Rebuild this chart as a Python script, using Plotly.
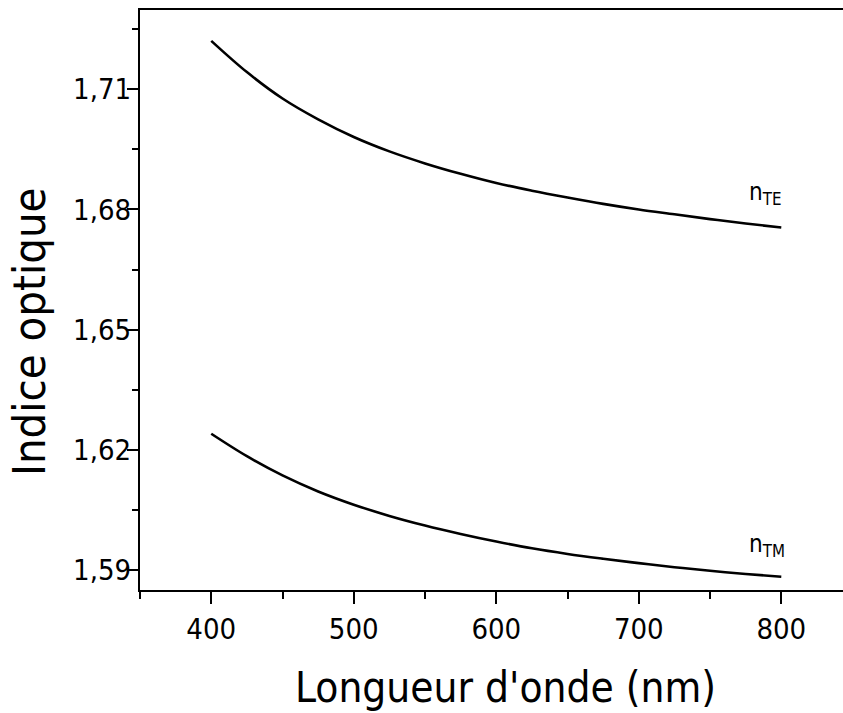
import plotly.graph_objects as go

wavelength = [400, 425, 450, 475, 500, 525, 550, 575, 600, 625, 650, 675, 700, 725, 750, 775, 800]
n_te = [1.7221, 1.7143, 1.7077, 1.7025, 1.6981, 1.6945, 1.6915, 1.6889, 1.6866, 1.6847,
        1.6830, 1.6814, 1.6800, 1.6788, 1.6776, 1.6765, 1.6755]
n_tm = [1.6240, 1.6184, 1.6136, 1.6096, 1.6063, 1.6035, 1.6011, 1.5990, 1.5971, 1.5954,
        1.5940, 1.5928, 1.5917, 1.5907, 1.5898, 1.5890, 1.5883]

FONT = "DejaVu Sans Condensed"

fig = go.Figure()
fig.add_trace(go.Scatter(x=wavelength, y=n_te, mode="lines", line=dict(color="black", width=2.6, shape="spline"), name="n_TE"))
fig.add_trace(go.Scatter(x=wavelength, y=n_tm, mode="lines", line=dict(color="black", width=2.6, shape="spline"), name="n_TM"))

fig.add_annotation(x=776, y=1.6795, xref="x", yref="y", text="n<sub>TE</sub>", showarrow=False,
                   xanchor="left", yanchor="bottom", font=dict(family=FONT, size=24, color="black"))
fig.add_annotation(x=776, y=1.5918, xref="x", yref="y", text="n<sub>TM</sub>", showarrow=False,
                   xanchor="left", yanchor="bottom", font=dict(family=FONT, size=24, color="black"))

fig.add_annotation(x=(506 - 140) / 703, y=-(687 - 590) / 580, xref="paper", yref="paper",
                   text="Longueur d'onde (nm)", showarrow=False, xanchor="center", yanchor="middle",
                   font=dict(family=FONT, size=42, color="black"))
fig.add_annotation(x=-(140 - 29) / 703, y=1 - (332 - 10) / 580, xref="paper", yref="paper",
                   text="Indice optique", showarrow=False, textangle=-90, xanchor="center", yanchor="middle",
                   font=dict(family=FONT, size=45, color="black"))

fig.update_layout(
    width=843, height=713,
    margin=dict(l=140, r=0, t=10, b=123),
    paper_bgcolor="white", plot_bgcolor="white",
    showlegend=False,
    separators=",.",
    font=dict(family=FONT, size=29, color="black"),
)
fig.update_xaxes(range=[350, 843.3], tick0=400, dtick=100, ticks="outside", ticklen=12, tickwidth=2,
                 tickcolor="black", showline=True, linecolor="black", linewidth=2, mirror=True,
                 showgrid=False, zeroline=False, automargin=False,
                 minor=dict(tick0=400, dtick=50, ticks="outside", ticklen=7, tickwidth=2, tickcolor="black", showgrid=False),
                 tickfont=dict(family=FONT, size=29, color="black"))
fig.update_yaxes(range=[1.585, 1.7298], tick0=1.59, dtick=0.03, tickformat=".2f", ticks="outside", ticklen=11,
                 tickwidth=2, tickcolor="black", showline=True, linecolor="black", linewidth=2, mirror=False,
                 showgrid=False, zeroline=False, automargin=False, ticklabelstandoff=-10,
                 minor=dict(tick0=1.59, dtick=0.015, ticks="outside", ticklen=6, tickwidth=2, tickcolor="black", showgrid=False),
                 tickfont=dict(family=FONT, size=29, color="black"))

fig.write_html("out.html", config={"displayModeBar": False},
               post_script="document.body.style.margin='0';document.body.style.overflow='hidden';")
